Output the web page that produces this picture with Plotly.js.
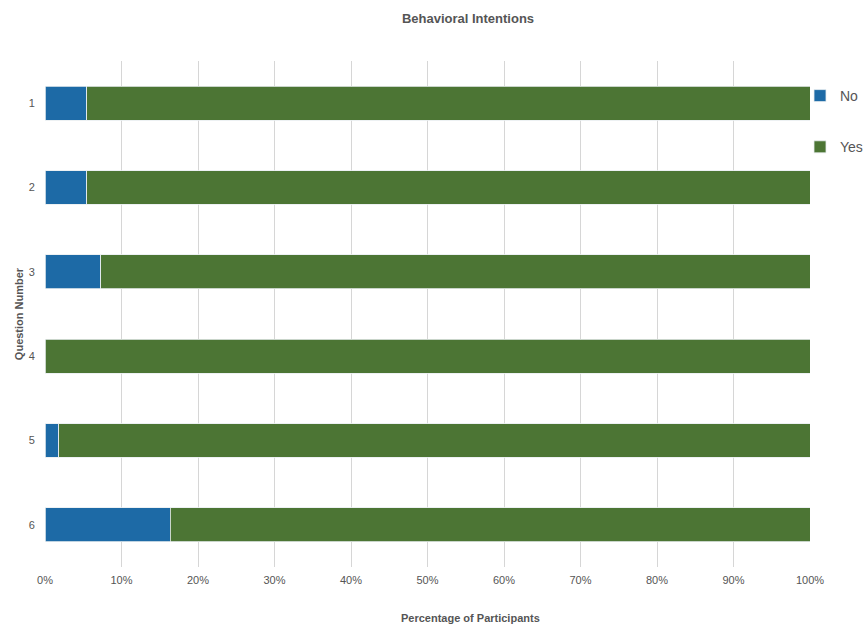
<!DOCTYPE html>
<html>
<head>
<meta charset="utf-8">
<script src="https://cdn.plot.ly/plotly-3.0.1.min.js"></script>
<style>html,body{margin:0;padding:0;background:#fff;}#chart{width:867px;height:625px;}</style>
</head>
<body>
<div id="chart"></div>
<script>
var questions = ["1", "2", "3", "4", "5", "6"];
var noPct = [5.45, 5.45, 7.27, 0, 1.82, 16.36];
var yesPct = [94.55, 94.55, 92.73, 100, 98.18, 83.64];
var xTickVals = [0, 10, 20, 30, 40, 50, 60, 70, 80, 90, 100];
var xTickText = ["0%", "10%", "20%", "30%", "40%", "50%", "60%", "70%", "80%", "90%", "100%"];

var FONT = "Liberation Sans, Arial, Helvetica, sans-serif";

var traces = [
  {
    type: "bar", orientation: "h", name: "No", legendgroup: "no",
    x: noPct, y: questions, width: 0.4,
    marker: {color: "#1d6aa6", line: {color: "#e8eef0", width: 0.8}},
    hovertemplate: "%{x:.1f}%<extra>No</extra>"
  },
  {
    type: "bar", orientation: "h", name: "Yes", legendgroup: "yes",
    x: yesPct, y: questions, width: 0.4,
    marker: {color: "#4c7534", line: {color: "#e8eef0", width: 0.8}},
    hovertemplate: "%{x:.1f}%<extra>Yes</extra>"
  }
];

var layout = {
  width: 867, height: 625,
  margin: {l: 45, r: 57, t: 61, b: 58, autoexpand: false},
  paper_bgcolor: "#fff", plot_bgcolor: "#fff",
  barmode: "stack",
  font: {family: FONT, color: "#555", size: 11},
  title: {
    text: "<b>Behavioral Intentions</b>",
    font: {family: FONT, size: 13, color: "#555"},
    x: 468 / 867, xanchor: "center", xref: "container",
    y: 0.971, yanchor: "middle", yref: "container"
  },
  xaxis: {
    range: [0, 100], tickvals: xTickVals, ticktext: xTickText,
    showgrid: true, gridcolor: "#d6d6d6", gridwidth: 1,
    zeroline: false, showline: false,
    ticks: "outside", ticklen: 3, tickcolor: "rgba(0,0,0,0)",
    tickfont: {family: FONT, size: 11, color: "#555"},
    fixedrange: true
  },
  yaxis: {
    type: "category", categoryorder: "array", categoryarray: questions,
    autorange: "reversed",
    showgrid: false, zeroline: false, showline: false,
    ticks: "outside", ticklen: 7, tickcolor: "rgba(0,0,0,0)",
    tickfont: {family: FONT, size: 11, color: "#555"},
    title: {text: "<b>Question Number</b>", font: {family: FONT, size: 11, color: "#555"}, standoff: 2},
    fixedrange: true
  },
  annotations: [
    {
      text: "<b>Percentage of Participants</b>",
      xref: "paper", yref: "paper", x: (470 - 45) / 765, y: -0.1, xanchor: "center", yanchor: "middle",
      showarrow: false, font: {family: FONT, size: 11, color: "#555"}
    }
  ],
  showlegend: true,
  legend: {
    xref: "container", yref: "container",
    x: 800 / 867, xanchor: "left", y: 1 - 80 / 625, yanchor: "top",
    traceorder: "grouped", tracegroupgap: 30,
    font: {family: FONT, size: 14, color: "#555"},
    bgcolor: "rgba(0,0,0,0)", itemwidth: 30
  }
};

Plotly.newPlot("chart", traces, layout, {displayModeBar: false, staticPlot: false});
</script>
</body>
</html>
